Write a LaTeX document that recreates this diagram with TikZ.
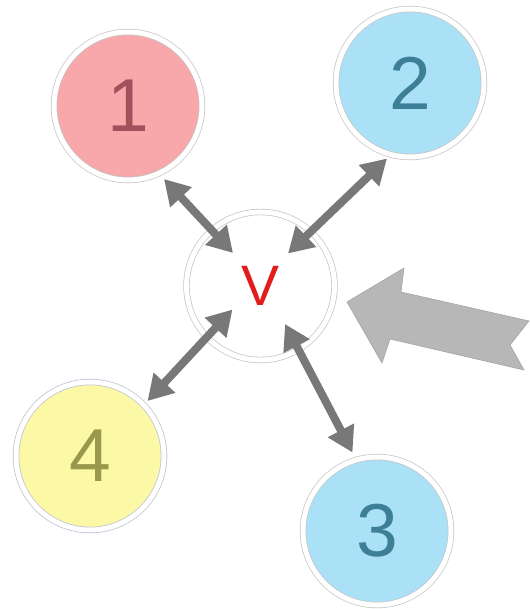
\documentclass[tikz,border=0pt]{standalone}
\usepackage{fontspec}
\setmainfont{Liberation Sans}
\usetikzlibrary{arrows.meta}
\definecolor{pinkfill}{HTML}{F8A8AA}
\definecolor{pinktext}{HTML}{A4505A}
\definecolor{bluefill}{HTML}{ABE1F6}
\definecolor{bluetext}{HTML}{3E7F98}
\definecolor{yellowfill}{HTML}{FBF8A6}
\definecolor{yellowtext}{HTML}{9A984C}
\definecolor{vred}{HTML}{E31B1B}
\definecolor{ringgray}{HTML}{C4C4C4}
\definecolor{ringviolet}{HTML}{BCBCD6}
\definecolor{arrowgray}{HTML}{787878}
\definecolor{bigarrowfill}{HTML}{B7B7B7}
\definecolor{bigarrowedge}{HTML}{A4A4A4}
\begin{document}
\begin{tikzpicture}[x=1pt,y=-1pt,
  bubble/.style={circle, draw=ringgray, line width=0.7pt, double=white, double distance=5pt,
    minimum size=148pt, inner sep=0pt, outer sep=0pt, font=\fontsize{75}{80}\selectfont},
  biarrow/.style={draw=arrowgray, line width=8pt,
    {Triangle[length=25pt,width=28pt]}-{Triangle[length=25pt,width=28pt]}},
  bigarrow/.style={fill=bigarrowfill, draw=bigarrowedge, line width=0.6pt, line join=miter}
]
\useasboundingbox (0,0) rectangle (529,609);
\fill[white] (0,0) rectangle (529,609);

\node[bubble, fill=pinkfill, text=pinktext] (n1) at (128,106) {1};
\node[bubble, fill=bluefill, text=bluetext] (n2) at (410,83) {2};
\node[bubble, fill=bluefill, text=bluetext] (n3) at (377,531) {3};
\node[bubble, fill=yellowfill, text=yellowtext, draw=ringviolet] (n4) at (90,456) {4};
\node[bubble, fill=white, text=vred, font=\fontsize{57}{60}\selectfont] (c) at (260.5,286) {V};

\draw[biarrow] ([shift={(36,73)}]n1.center) -- ([shift={(-27.5,-33)}]c.center);
\draw[biarrow] ([shift={(-23,75.5)}]n2.center) -- ([shift={(27.5,-32.5)}]c.center);
\draw[biarrow] ([shift={(57.5,-55)}]n4.center) -- ([shift={(-28,23.5)}]c.center);
\draw[biarrow] ([shift={(-24.5,-78.5)}]n3.center) -- ([shift={(24.5,38)}]c.center);

\draw[bigarrow] (347,302) -- (404,268) -- (401,292) -- (529,321) -- (510,345)
  -- (524,370) -- (390,339) -- (382,363) -- cycle;
\end{tikzpicture}
\end{document}
